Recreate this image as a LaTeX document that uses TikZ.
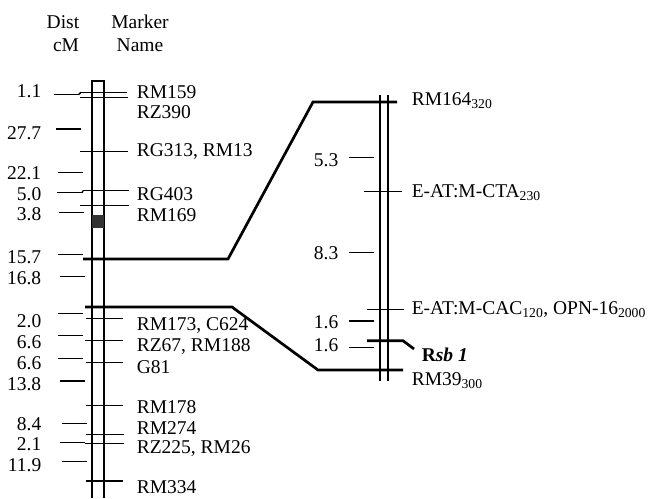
\documentclass[tikz,border=0pt]{standalone}
\usepackage{fontspec}
\setmainfont{Liberation Serif}
\tikzset{
  maplink/.style={line width=2.7pt},
  disttick/.style={line width=1.5pt},
  marktick/.style={line width=1.5pt},
}
\begin{document}
\begin{tikzpicture}[x=1pt, y=-1pt, line width=1.5pt,
  every node/.style={font=\fontsize{19.5}{22}\selectfont, inner sep=0pt}]
  \useasboundingbox (0,0) rectangle (658,498);
  % column heads
  \node (disthead) at (63,22) {Dist};
  \node (cmhead) at (66,45) {cM};
  \node (markhead) at (140,22) {Marker};
  \node (namehead) at (140,45) {Name};
  % left chromosome
  \draw (92,498) -- (92,81) -- (104,81) -- (104,498);
  \fill[black!80] (92,215) rectangle (104,227.5);
  % left distances
  \foreach \d/\ty/\ly/\xa [count=\i] in {1.1/94.3/91/54, 27.7/129/133/56, 22.1/172.7/173/58,
      5.0/192.7/194/57, 3.8/212.3/214/59, 15.7/254.7/257/58, 16.8/276.7/278/60,
      2.0/313.3/321/58, 6.6/335.3/342/58, 6.6/358.7/363/58, 13.8/381/384/60,
      8.4/423.7/424/62, 2.1/442.5/444/60, 11.9/461.3/465/62}
    {\draw[disttick] (\xa,\ty) -- ++(25,0);
     \node[anchor=east] (ld\i) at (42,\ly) {\d};}
  \draw[disttick] (79,94.3) -- (81,92.3);
  \draw[disttick] (82,192.7) -- (83,190.7);
  % left markers
  \foreach \m/\my/\xa/\xb/\ly [count=\i] in {RM159/92.3/81/127/92, RZ390/97.7/80/128/112,
      {RG313, RM13}/151.7/80/128/152, RG403/190.7/83/129/194, RM169/205.7/80/129/215,
      {RM173, C624}/318.3/86/123/326, {RZ67, RM188}/340.7/85/123/347, G81/362.3/86/123/367,
      RM178/405.3/86/123/407, RM274/434.3/86/124/428, {RZ225, RM26}/443.7/85/124/449,
      RM334/481/86/123/487}
    {\draw[marktick] (\xa,\my) -- (\xb,\my);
     \node[anchor=west] (lm\i) at (136,\ly) {\m};}
  % right chromosome
  \draw (380,95) -- (380,381);
  \draw (388,95) -- (388,381);
  % links between the maps
  \draw[maplink] (83,259) -- (228,259) -- (313,102) -- (397,102);
  \draw[maplink] (85,307) -- (232,307) -- (318,370) -- (403,370);
  % right distances
  \foreach \d/\ty/\ly [count=\i] in {5.3/157.7/160, 8.3/252.3/253, 1.6/321/322, 1.6/347.3/345}
    {\draw[disttick] (349,\ty) -- ++(25,0);
     \node[anchor=east] (rd\i) at (339,\ly) {\d};}
  % right markers
  \draw[marktick] (364,191.7) -- (402,191.7);
  \draw[marktick] (367,309.3) -- (404,309.3);
  \draw[maplink] (367,340.7) -- (403,340.7) -- (414,349);
  \node[anchor=west] (rm164) at (411,101) {RM164\textsubscript{320}};
  \node[anchor=west] (cta) at (411,193) {E-AT:M-CTA\textsubscript{230}};
  \node[anchor=west] (cac) at (411,309.5) {E-AT:M-CAC\textsubscript{120}, OPN-16\textsubscript{2000}};
  \node[anchor=west] (rsb) at (421,355) {\bfseries R\itshape sb 1};
  \node[anchor=west] (rm39) at (411,381) {RM39\textsubscript{300}};
\end{tikzpicture}
\end{document}
